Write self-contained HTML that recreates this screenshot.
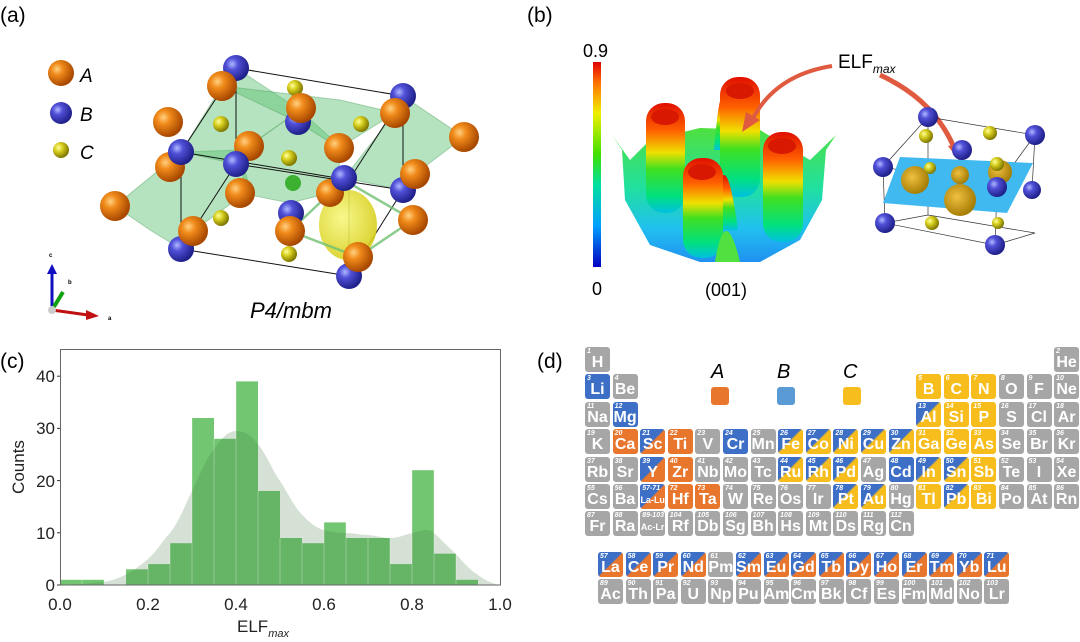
<!DOCTYPE html>
<html><head><meta charset="utf-8"><style>
body{margin:0;width:1080px;height:642px;background:#fff;position:relative;overflow:hidden;font-family:"Liberation Sans",sans-serif}
svg{position:absolute;left:0;top:0}
.pt{position:absolute;display:grid;grid-template-columns:repeat(18,25px);grid-auto-rows:25px;column-gap:2.6px;row-gap:2.4px}
.ln{position:absolute;display:grid;grid-template-columns:repeat(15,25px);grid-auto-rows:25px;column-gap:2.6px;row-gap:2px}
.c{position:relative;border-radius:3px;color:#fff;font-weight:bold;font-size:16px;text-align:center;line-height:32px;overflow:hidden}
.c i{position:absolute;left:2px;top:-11px;font-size:7px;font-weight:bold}
.g{background:#a6a6a6}.o{background:#e8762d}.b{background:#3d6fc6}.y{background:#f7bd1c}
.ob{background:linear-gradient(to bottom right,#3d6fc6 48%,#e8762d 52%)}
.by{background:linear-gradient(to bottom right,#3d6fc6 45%,#f7bd1c 50%)}
.s{font-size:9px}
</style></head><body>
<svg width="1080" height="642" viewBox="0 0 1080 642" font-family="Liberation Sans, sans-serif">
<defs>
<radialGradient id="or" cx="35%" cy="35%" r="65%"><stop offset="0" stop-color="#ffd080"/><stop offset=".35" stop-color="#f08a1a"/><stop offset="1" stop-color="#a84800"/></radialGradient>
<radialGradient id="bl" cx="35%" cy="35%" r="65%"><stop offset="0" stop-color="#b0b8ff"/><stop offset=".35" stop-color="#5050d8"/><stop offset="1" stop-color="#20208a"/></radialGradient>
<radialGradient id="ye" cx="35%" cy="35%" r="65%"><stop offset="0" stop-color="#ffffa0"/><stop offset=".4" stop-color="#d8d020"/><stop offset="1" stop-color="#807800"/></radialGradient>
<radialGradient id="bye" cx="40%" cy="40%" r="60%"><stop offset="0" stop-color="#f8f880"/><stop offset="1" stop-color="#d8d020"/></radialGradient>
<radialGradient id="ga" cx="40%" cy="40%" r="65%"><stop offset="0" stop-color="#f0c040"/><stop offset="1" stop-color="#a07800"/></radialGradient>
<linearGradient id="cb" x1="0" y1="1" x2="0" y2="0"><stop offset="0" stop-color="#0000c0"/><stop offset=".2" stop-color="#00a0ff"/><stop offset=".4" stop-color="#00e0a0"/><stop offset=".55" stop-color="#40e000"/><stop offset=".75" stop-color="#f0f000"/><stop offset=".9" stop-color="#ff7000"/><stop offset="1" stop-color="#e00000"/></linearGradient>
<linearGradient id="pil" x1="0" y1="0" x2="0" y2="1"><stop offset="0" stop-color="#e01000"/><stop offset=".25" stop-color="#ff6000"/><stop offset=".45" stop-color="#f0e000"/><stop offset=".6" stop-color="#40e020"/><stop offset=".85" stop-color="#00e080"/><stop offset="1" stop-color="#00c0e0"/></linearGradient>
<linearGradient id="base" x1="0" y1="0" x2="0" y2="1"><stop offset="0" stop-color="#50e040"/><stop offset=".45" stop-color="#20e0a0"/><stop offset=".75" stop-color="#20c0f0"/><stop offset="1" stop-color="#2090f0"/></linearGradient>
</defs>
<text x="0" y="22" font-size="21">(a)</text>
<text x="527" y="22" font-size="21">(b)</text>
<text x="0" y="368" font-size="21">(c)</text>
<text x="537" y="368" font-size="21">(d)</text>
<g fill="#5cc070" fill-opacity=".45" stroke="#4a9a5a" stroke-opacity=".4">
<polygon points="115,206 181,152 240,150 250,190 193,231 181,249 150,230"/>
<polygon points="181,152 222,86 236,68 300,110 249,146 236,164"/>
<polygon points="249,146 300,110 344,150 330,193 290,203 240,193"/>
<polygon points="344,178 395,113 403,96 464,137 415,174 403,190"/>
<polygon points="222,86 298,122 339,148 395,113 340,100"/>
</g>
<g stroke="#111" stroke-width="1" fill="none">
<line x1="236" y1="68" x2="403" y2="96"/><line x1="181" y1="152" x2="349" y2="180"/><line x1="181" y1="249" x2="349" y2="276"/>
<line x1="236" y1="68" x2="181" y2="152"/><line x1="403" y1="96" x2="349" y2="180"/><line x1="236" y1="164" x2="181" y2="249"/><line x1="403" y1="190" x2="349" y2="276"/>
<line x1="236" y1="68" x2="236" y2="164"/><line x1="403" y1="96" x2="403" y2="190"/><line x1="181" y1="152" x2="181" y2="249"/><line x1="349" y1="180" x2="349" y2="276"/>
<line x1="236" y1="164" x2="403" y2="190"/>
</g>
<ellipse cx="348" cy="225" rx="29" ry="35" fill="url(#bye)" opacity=".9"/>
<g stroke="#70c070" stroke-width="2.5" opacity=".8"><line x1="290" y1="231" x2="344" y2="180"/><line x1="290" y1="231" x2="358" y2="257"/><line x1="358" y1="257" x2="413" y2="220"/><line x1="344" y1="180" x2="413" y2="220"/></g>
<g fill="url(#ye)"><circle cx="295" cy="88" r="8"/><circle cx="221" cy="124" r="8"/><circle cx="361" cy="124" r="8"/><circle cx="289" cy="158" r="8"/><circle cx="221" cy="218" r="8"/><circle cx="289" cy="254" r="8"/><circle cx="293" cy="183" r="8" fill="#3cb030"/></g>
<g fill="url(#bl)"><circle cx="236" cy="68" r="13"/><circle cx="403" cy="96" r="13"/><circle cx="298" cy="122" r="13"/><circle cx="291" cy="213" r="13"/><circle cx="403" cy="190" r="13"/></g>
<g fill="url(#or)"><circle cx="222" cy="86" r="15"/><circle cx="301" cy="108" r="15"/><circle cx="395" cy="113" r="15"/><circle cx="168" cy="122" r="15"/><circle cx="464" cy="137" r="15"/><circle cx="170" cy="167" r="15"/><circle cx="339" cy="148" r="15"/><circle cx="249" cy="146" r="15"/><circle cx="330" cy="193" r="14"/></g>
<g fill="url(#bl)"><circle cx="181" cy="152" r="13"/><circle cx="236" cy="164" r="13"/><circle cx="344" cy="178" r="13"/><circle cx="181" cy="249" r="13"/><circle cx="349" cy="276" r="13"/></g>
<g fill="url(#or)"><circle cx="115" cy="206" r="15"/><circle cx="240" cy="193" r="15"/><circle cx="193" cy="231" r="15"/><circle cx="415" cy="174" r="15"/><circle cx="413" cy="220" r="15"/><circle cx="290" cy="231" r="15"/><circle cx="358" cy="257" r="15"/></g>
<circle cx="61" cy="73" r="13" fill="url(#or)"/><circle cx="61" cy="113" r="11" fill="url(#bl)"/><circle cx="61" cy="150" r="8" fill="url(#ye)"/>
<g font-size="19" font-style="italic"><text x="80" y="82">A</text><text x="80" y="121">B</text><text x="80" y="159">C</text></g>
<text x="250" y="318" font-size="22" font-style="italic">P4/mbm</text>
<line x1="52" y1="310" x2="52" y2="272" stroke="#1010c0" stroke-width="3"/><polygon points="47,274 57,274 52,264" fill="#1010c0"/>
<line x1="52" y1="310" x2="88" y2="315" stroke="#c01010" stroke-width="3"/><polygon points="86,310 99,316 86,320" fill="#c01010"/>
<line x1="52" y1="310" x2="63" y2="292" stroke="#10a010" stroke-width="4"/>
<circle cx="52" cy="310" r="4" fill="#ccc"/>
<g font-size="6" font-weight="bold"><text x="49" y="257">c</text><text x="68" y="284">b</text><text x="108" y="320">a</text></g>
<rect x="593" y="62" width="8" height="205" fill="url(#cb)"/>
<text x="583" y="57" font-size="18">0.9</text><text x="592" y="295" font-size="18">0</text>
<text x="705" y="296" font-size="18">(001)</text>
<polygon points="612,135 622,150 625,200 650,245 700,262 760,262 800,240 822,200 826,150 836,135 810,160 760,130 700,128 650,140 630,160" fill="url(#base)"/>
<path d="M714,150 Q723,40 732,150 Z" fill="url(#pil)"/>
<rect x="646" y="103" width="39" height="110" rx="18" fill="url(#pil)"/><ellipse cx="665" cy="117" rx="14" ry="8" fill="#d81800"/>
<rect x="720" y="77" width="40" height="120" rx="18" fill="url(#pil)"/><ellipse cx="740" cy="91" rx="14" ry="8" fill="#d81800"/>
<path d="M712,230 Q723,120 738,230 Z" fill="url(#pil)"/>
<rect x="763" y="132" width="40" height="110" rx="18" fill="url(#pil)"/><ellipse cx="782" cy="146" rx="14" ry="8" fill="#d81800"/>
<rect x="683" y="158" width="40" height="100" rx="18" fill="url(#pil)"/><ellipse cx="702" cy="172" rx="14" ry="8" fill="#d81800"/>
<path d="M715,262 Q725,200 740,262 Z" fill="#50e040"/>
<text x="838" y="68" font-size="19">ELF<tspan font-size="12" font-style="italic" dy="5">max</tspan></text>
<path d="M832,66 Q775,75 752,120" stroke="#e05a40" stroke-width="4" fill="none"/><polygon points="742,132 746,112 760,120" fill="#e05a40"/>
<path d="M880,75 Q935,100 955,150" stroke="#e05a40" stroke-width="5" fill="none"/><polygon points="960,162 948,146 964,142" fill="#e05a40"/>
<g stroke="#333" stroke-width=".7" fill="none"><polygon points="928,117 1035,135 997,187 883,167"/><polygon points="928,215 1035,233 995,245 885,223"/><line x1="928" y1="117" x2="928" y2="215"/><line x1="1035" y1="135" x2="1032" y2="190"/><line x1="883" y1="167" x2="885" y2="223"/><line x1="997" y1="187" x2="995" y2="245"/></g>
<polygon points="900,157 1033,163 1007,213 883,203" fill="#40b8f0"/>
<g fill="url(#ga)"><circle cx="915" cy="180" r="14"/><circle cx="960" cy="175" r="9"/><circle cx="960" cy="200" r="16"/><circle cx="1000" cy="172" r="12"/></g>
<g fill="url(#ye)"><circle cx="926" cy="136" r="7"/><circle cx="990" cy="133" r="7"/><circle cx="930" cy="168" r="6"/><circle cx="997" cy="164" r="7"/><circle cx="932" cy="223" r="7"/><circle cx="998" cy="223" r="6"/></g>
<g fill="url(#bl)"><circle cx="928" cy="117" r="10"/><circle cx="1035" cy="135" r="10"/><circle cx="962" cy="150" r="10"/><circle cx="883" cy="167" r="10"/><circle cx="997" cy="187" r="10"/><circle cx="1032" cy="190" r="9"/><circle cx="885" cy="223" r="10"/><circle cx="995" cy="245" r="10"/></g>
<g fill="#72c672">
<rect x="60" y="579.8" width="22" height="5.2"/><rect x="82" y="579.8" width="22" height="5.2"/>
<rect x="126" y="569.3" width="22" height="15.7"/><rect x="148" y="564.1" width="22" height="20.9"/>
<rect x="170" y="543.2" width="22" height="41.8"/><rect x="192" y="418" width="22" height="167"/>
<rect x="214" y="438.8" width="22" height="146.2"/><rect x="236" y="381.4" width="22" height="203.6"/>
<rect x="258" y="491" width="22" height="94"/><rect x="280" y="538" width="22" height="47"/>
<rect x="302" y="543.2" width="22" height="41.8"/><rect x="324" y="522.4" width="22" height="62.6"/>
<rect x="346" y="538" width="22" height="47"/><rect x="368" y="538" width="22" height="47"/>
<rect x="390" y="564.1" width="22" height="20.9"/><rect x="412" y="470.2" width="22" height="114.8"/>
<rect x="434" y="553.7" width="22" height="31.3"/><rect x="456" y="579.8" width="22" height="5.2"/>
</g>
<path d="M60,585 L82,584 L104,582 C115,580 120,577 126,574.6 C135,570 142,564 148,559 C158,550 163,540 170,533 C180,520 186,503 192,491 C200,475 207,457 214,449 C222,438 228,431 236,431 C246,431 252,437 258,444 C268,457 272,470 280,481 C289,495 295,508 302,514.5 C310,523 316,528 324,530 C332,532 338,533 346,533 C355,533 360,535 368,535 C378,536 384,538 390,538 C398,538 404,535 412,533 L425,530 C430,530 432,531 434,533 C442,540 448,547 456,554 C463,562 470,570 478,575 C486,581 494,584 500,585 Z" fill="rgba(60,120,60,0.22)"/>
<g stroke="#fff" stroke-width=".6" opacity=".5"><path d="M82,585V579M104,585V579M148,585V564M170,585V543M192,585V418M214,585V438M236,585V381M258,585V491M280,585V538M302,585V543M324,585V522M346,585V522M368,585V538M390,585V538M412,585V470M434,585V470M456,585V553"/></g>
<rect x="60.5" y="349.5" width="440" height="235.5" fill="none" stroke="#666" stroke-width="1"/>
<g stroke="#333"><line x1="57" y1="585" x2="60" y2="585"/><line x1="57" y1="532.8" x2="60" y2="532.8"/><line x1="57" y1="480.6" x2="60" y2="480.6"/><line x1="57" y1="428.4" x2="60" y2="428.4"/><line x1="57" y1="376.2" x2="60" y2="376.2"/></g>
<g font-size="17" text-anchor="end" fill="#222"><text x="55" y="591">0</text><text x="55" y="539">10</text><text x="55" y="487">20</text><text x="55" y="434">30</text><text x="55" y="382">40</text></g>
<g font-size="17" text-anchor="middle" fill="#222"><text x="60" y="610">0.0</text><text x="148" y="610">0.2</text><text x="236" y="610">0.4</text><text x="324" y="610">0.6</text><text x="412" y="610">0.8</text><text x="500" y="610">1.0</text></g>
<text x="237" y="632" font-size="17" fill="#222">ELF<tspan font-size="11" font-style="italic" dy="5">max</tspan></text>
<text transform="translate(24,467) rotate(-90)" font-size="17" text-anchor="middle" fill="#222">Counts</text>
<g font-size="20" font-style="italic"><text x="711" y="378">A</text><text x="777" y="378">B</text><text x="843" y="378">C</text></g>
<rect x="711" y="387" width="18" height="18" rx="3" fill="#e8762d"/><rect x="777" y="387" width="18" height="18" rx="3" fill="#5b9bd5"/><rect x="843" y="387" width="18" height="18" rx="3" fill="#f7bd1c"/>
</svg>
<div class="pt" style="left:585px;top:347px">
<div class="c g"><i>1</i>H</div><div class="c g" style="grid-column:18"><i>2</i>He</div>
<div class="c b"><i>3</i>Li</div><div class="c g"><i>4</i>Be</div><div class="c y" style="grid-column:13"><i>5</i>B</div><div class="c y"><i>6</i>C</div><div class="c y"><i>7</i>N</div><div class="c g"><i>8</i>O</div><div class="c g"><i>9</i>F</div><div class="c g"><i>10</i>Ne</div>
<div class="c g"><i>11</i>Na</div><div class="c b"><i>12</i>Mg</div><div class="c by" style="grid-column:13"><i>13</i>Al</div><div class="c y"><i>14</i>Si</div><div class="c y"><i>15</i>P</div><div class="c g"><i>16</i>S</div><div class="c g"><i>17</i>Cl</div><div class="c g"><i>18</i>Ar</div>
<div class="c g"><i>19</i>K</div><div class="c o"><i>20</i>Ca</div><div class="c ob"><i>21</i>Sc</div><div class="c o"><i>22</i>Ti</div><div class="c g"><i>23</i>V</div><div class="c b"><i>24</i>Cr</div><div class="c g"><i>25</i>Mn</div><div class="c by"><i>26</i>Fe</div><div class="c by"><i>27</i>Co</div><div class="c by"><i>28</i>Ni</div><div class="c by"><i>29</i>Cu</div><div class="c by"><i>30</i>Zn</div><div class="c y"><i>31</i>Ga</div><div class="c y"><i>32</i>Ge</div><div class="c y"><i>33</i>As</div><div class="c g"><i>34</i>Se</div><div class="c g"><i>35</i>Br</div><div class="c g"><i>36</i>Kr</div>
<div class="c g"><i>37</i>Rb</div><div class="c g"><i>38</i>Sr</div><div class="c ob"><i>39</i>Y</div><div class="c o"><i>40</i>Zr</div><div class="c g"><i>41</i>Nb</div><div class="c g"><i>42</i>Mo</div><div class="c g"><i>43</i>Tc</div><div class="c by"><i>44</i>Ru</div><div class="c by"><i>45</i>Rh</div><div class="c by"><i>46</i>Pd</div><div class="c g"><i>47</i>Ag</div><div class="c b"><i>48</i>Cd</div><div class="c by"><i>49</i>In</div><div class="c by"><i>50</i>Sn</div><div class="c y"><i>51</i>Sb</div><div class="c g"><i>52</i>Te</div><div class="c g"><i>53</i>I</div><div class="c g"><i>54</i>Xe</div>
<div class="c g"><i>55</i>Cs</div><div class="c g"><i>56</i>Ba</div><div class="c ob s"><i>57-71</i>La-Lu</div><div class="c o"><i>72</i>Hf</div><div class="c o"><i>73</i>Ta</div><div class="c g"><i>74</i>W</div><div class="c g"><i>75</i>Re</div><div class="c g"><i>76</i>Os</div><div class="c g"><i>77</i>Ir</div><div class="c by"><i>78</i>Pt</div><div class="c by"><i>79</i>Au</div><div class="c g"><i>80</i>Hg</div><div class="c y"><i>81</i>Tl</div><div class="c by"><i>82</i>Pb</div><div class="c y"><i>83</i>Bi</div><div class="c g"><i>84</i>Po</div><div class="c g"><i>85</i>At</div><div class="c g"><i>86</i>Rn</div>
<div class="c g"><i>87</i>Fr</div><div class="c g"><i>88</i>Ra</div><div class="c g s"><i>89-103</i>Ac-Lr</div><div class="c g"><i>104</i>Rf</div><div class="c g"><i>105</i>Db</div><div class="c g"><i>106</i>Sg</div><div class="c g"><i>107</i>Bh</div><div class="c g"><i>108</i>Hs</div><div class="c g"><i>109</i>Mt</div><div class="c g"><i>110</i>Ds</div><div class="c g"><i>111</i>Rg</div><div class="c g"><i>112</i>Cn</div>
</div>
<div class="ln" style="left:598px;top:552px">
<div class="c ob"><i>57</i>La</div><div class="c ob"><i>58</i>Ce</div><div class="c ob"><i>59</i>Pr</div><div class="c ob"><i>60</i>Nd</div><div class="c g"><i>61</i>Pm</div><div class="c ob"><i>62</i>Sm</div><div class="c ob"><i>63</i>Eu</div><div class="c ob"><i>64</i>Gd</div><div class="c ob"><i>65</i>Tb</div><div class="c ob"><i>66</i>Dy</div><div class="c ob"><i>67</i>Ho</div><div class="c ob"><i>68</i>Er</div><div class="c ob"><i>69</i>Tm</div><div class="c ob"><i>70</i>Yb</div><div class="c ob"><i>71</i>Lu</div>
<div class="c g"><i>89</i>Ac</div><div class="c g"><i>90</i>Th</div><div class="c g"><i>91</i>Pa</div><div class="c g"><i>92</i>U</div><div class="c g"><i>93</i>Np</div><div class="c g"><i>94</i>Pu</div><div class="c g"><i>95</i>Am</div><div class="c g"><i>96</i>Cm</div><div class="c g"><i>97</i>Bk</div><div class="c g"><i>98</i>Cf</div><div class="c g"><i>99</i>Es</div><div class="c g"><i>100</i>Fm</div><div class="c g"><i>101</i>Md</div><div class="c g"><i>102</i>No</div><div class="c g"><i>103</i>Lr</div>
</div>
</body></html>
